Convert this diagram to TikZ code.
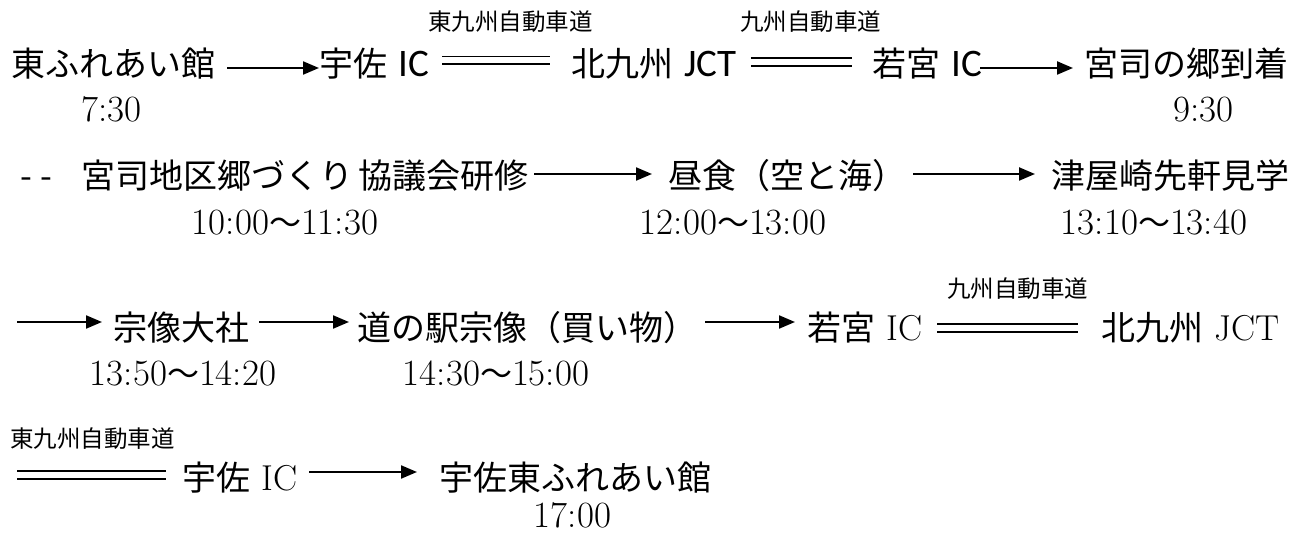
\documentclass[tikz,border=0pt]{standalone}
\usepackage{fontspec}
\newfontfamily\jp{Noto Sans CJK JP}
\newfontfamily\carl{Carlito}
\usetikzlibrary{arrows.meta}
\tikzset{
  place/.style={anchor=base west, inner sep=0pt, font=\jp\fontsize{34}{40}\selectfont},
  timelbl/.style={anchor=base, inner sep=0pt, font=\fontsize{37}{40}\selectfont},
  road/.style={anchor=base west, inner sep=0pt, font=\jp\fontsize{23.5}{28}\selectfont},
  arr/.style={line width=2.2pt, -{Triangle[length=16pt,width=13pt]}},
  dbl/.style={double distance=6pt, line width=1.8pt},
}
\newcommand{\sIC}{{\carl\fontsize{39}{40}\selectfont IC}}
\newcommand{\sJCT}{{\carl\fontsize{39}{40}\selectfont JCT}}
\newcommand{\wave}{{\jp\fontsize{32}{40}\selectfont ～}}
\begin{document}
\begin{tikzpicture}[x=1pt,y=-1pt]
\useasboundingbox (0,0) rectangle (1308,534);
% ---------- row 1 ----------
\node[place] (n1) at (11,77) {東ふれあい館};
\node[place] (n2) at (319,77) {宇佐\hspace{11pt}\sIC};
\node[place] (n3) at (571,77) {北九州\hspace{11pt}\sJCT};
\node[place] (n4) at (872,77) {若宮\hspace{11pt}\sIC};
\node[place, minimum width=218pt] (n5) at (1077,77) {宮司の郷到着};
\node[road] (l1) at (428,31) {東九州自動車道};
\node[road] (l2) at (740,31) {九州自動車道};
\node[timelbl] (t1) at (111.5,122) {7:30};
\node[timelbl] (t2) at (1203.5,122) {9:30};
\draw[arr] ([xshift=12pt,yshift=9pt]n1.base east) -- ([yshift=9pt]n2.base west);
\draw[dbl] ([xshift=13pt,yshift=16.5pt]n2.base east) -- ([xshift=-21pt,yshift=16.5pt]n3.base west);
\draw[dbl] ([xshift=14pt,yshift=15pt]n3.base east) -- ([xshift=-20pt,yshift=15pt]n4.base west);
\draw[arr] ([xshift=-2pt,yshift=9pt]n4.base east) -- ([xshift=-4pt,yshift=9pt]n5.base west);
% ---------- row 2 ----------
\node[place] (m1) at (20,189) {-\hspace{9pt}-\hspace{29pt}宮司地区郷づくり\hspace{5pt}協議会研修};
\node[place] (m2) at (668,189) {昼食（空と海）};
\node[place] (m3) at (1051,189) {津屋崎先軒見学};
\node[timelbl] (t3) at (285,235) {10:00\wave 11:30};
\node[timelbl] (t4) at (733,235) {12:00\wave 13:00};
\node[timelbl] (t5) at (1154,235) {13:10\wave 13:40};
\draw[arr] ([xshift=5pt,yshift=15pt]m1.base east) -- ([xshift=-16pt,yshift=15pt]m2.base west);
\draw[arr] ([xshift=7pt,yshift=15pt]m2.base east) -- ([xshift=-16pt,yshift=15pt]m3.base west);
% ---------- row 3 ----------
\coordinate (s3) at (17,322);
\node[place] (p1) at (113,341) {宗像大社};
\node[place] (p2) at (357,341) {道の駅宗像（買い物）};
\node[place] (p3) at (807,341) {若宮\hspace{11pt}{\fontspec{Latin Modern Roman}\fontsize{36}{40}\selectfont IC}};
\node[place] (p4) at (1101,341) {北九州\hspace{11pt}{\fontspec{Latin Modern Roman}\fontsize{36}{40}\selectfont JCT}};
\node[road] (l3) at (947,298) {九州自動車道};
\node[timelbl] (t6) at (183,385) {13:50\wave 14:20};
\node[timelbl] (t7) at (496,385) {14:30\wave 15:00};
\draw[arr] (s3) -- ([xshift=-11pt,yshift=19pt]p1.base west);
\draw[arr] ([xshift=10pt,yshift=19pt]p1.base east) -- ([xshift=-8pt,yshift=19pt]p2.base west);
\draw[arr] ([xshift=8pt,yshift=19pt]p2.base east) -- ([xshift=-12pt,yshift=19pt]p3.base west);
\draw[dbl] ([xshift=15pt,yshift=13pt]p3.base east) -- ([xshift=-23pt,yshift=13pt]p4.base west);
% ---------- row 4 ----------
\coordinate (s4) at (17,475);
\node[road] (l4) at (10,447) {東九州自動車道};
\node[place] (q1) at (182,490) {宇佐\hspace{11pt}{\fontspec{Latin Modern Roman}\fontsize{36}{40}\selectfont IC}};
\node[place] (q2) at (439,490) {宇佐東ふれあい館};
\node[timelbl] (t8) at (572.5,527) {17:00};
\draw[dbl] (s4) -- ([xshift=-16pt,yshift=15pt]q1.base west);
\draw[arr] ([xshift=12pt,yshift=18pt]q1.base east) -- ([xshift=-22pt,yshift=18pt]q2.base west);
\end{tikzpicture}
\end{document}
